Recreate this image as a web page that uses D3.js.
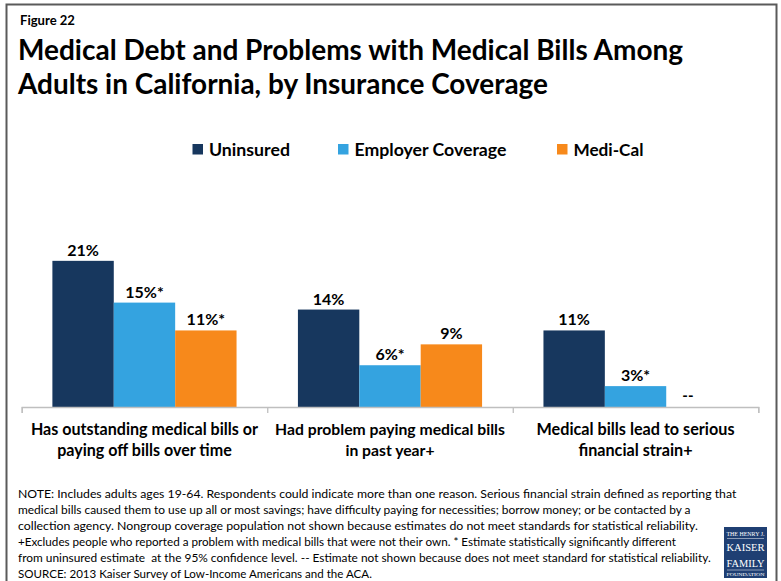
<!DOCTYPE html>
<html>
<head>
<meta charset="utf-8">
<script src="https://cdn.jsdelivr.net/npm/d3@7"></script>
<style>
  html, body { margin: 0; padding: 0; background: #fff; }
  svg { display: block; }
  text { font-family: Lato, "Open Sans", sans-serif; fill: #000; }
</style>
</head>
<body>
<svg id="chart" width="781" height="581"></svg>
<script>
// ---- data ----
const categories = ["cat1", "cat2", "cat3"];
const categoryLabels = [
  ["Has outstanding medical bills or", "paying off bills over time"],
  ["Had problem paying medical bills", "in past year+"],
  ["Medical bills lead to serious", "financial strain+"]
];
const seriesNames = ["Uninsured", "Employer Coverage", "Medi-Cal"];
const seriesColors = ["#17375E", "#34A3E0", "#F7891B"];
const uninsured = [21, 14, 11];
const employer = [15, 6, 3];
const mediCal = [11, 9, null];
const significant = [
  [false, false, false],
  [true, true, true],
  [true, false, false]
];
const noteLines = [
  "NOTE: Includes adults ages 19-64. Respondents could indicate more than one reason. Serious financial strain defined as reporting that",
  "medical bills caused them to use up all or most savings; have difficulty paying for necessities; borrow money; or be contacted by a",
  "collection agency. Nongroup coverage population not shown because estimates do not meet standards for statistical reliability.",
  "+Excludes people who reported a problem with medical bills that were not their own. * Estimate statistically significantly different",
  "from uninsured estimate  at the 95% confidence level. -- Estimate not shown because does not meet standard for statistical reliability.",
  "SOURCE: 2013 Kaiser Survey of Low-Income Americans and the ACA."
];
const noteWidths = [719, 673, 680, 658, 693, 354];

const seriesValues = [uninsured, employer, mediCal];

const svg = d3.select("#chart");

// scale a text element's font size so it spans a given width
function fit(sel, width) {
  const node = sel.node();
  const fs = parseFloat(sel.attr("font-size"));
  const w = node.getComputedTextLength();
  sel.attr("font-size", (fs * width / w).toFixed(2));
  return sel;
}

// frame
svg.append("rect")
  .attr("x", 6.5).attr("y", 4.5).attr("width", 770).attr("height", 600)
  .attr("fill", "none").attr("stroke", "#5a5a5a").attr("stroke-width", 2);

// headings
fit(svg.append("text").attr("x", 20).attr("y", 25)
  .attr("font-size", 14).attr("font-weight", 700).text("Figure 22"), 55);
fit(svg.append("text").attr("x", 18).attr("y", 60)
  .attr("font-size", 26).attr("font-weight", 700)
  .text("Medical Debt and Problems with Medical Bills Among"), 665);
fit(svg.append("text").attr("x", 18).attr("y", 94)
  .attr("font-size", 26).attr("font-weight", 700)
  .text("Adults in California, by Insurance Coverage"), 530);

// legend
const legendX = [192.5, 338, 557];
const legendW = [81, 152, 70];
seriesNames.forEach((name, i) => {
  svg.append("rect").attr("x", legendX[i]).attr("y", 144)
    .attr("width", 10.5).attr("height", 10.5).attr("fill", seriesColors[i]);
  fit(svg.append("text").attr("x", legendX[i] + 16.5).attr("y", 156)
    .attr("font-size", 17).attr("font-weight", 700).text(name), legendW[i]);
});

// scales
const x0 = d3.scaleBand().domain(categories).range([21.7, 758.3]).padding(0);
const x1 = d3.scaleBand().domain(seriesNames).range([0, x0.bandwidth()])
  .paddingInner(0).paddingOuter(0.5);
const y = d3.scaleLinear().domain([0, 25]).range([407, 233]);
const edges = d3.scaleLinear().domain([0, categories.length]).range(x0.range());

// bars
const groups = svg.append("g").selectAll("g").data(categories).join("g")
  .attr("transform", d => `translate(${x0(d)},0)`);

groups.each(function(cat, ci) {
  const g = d3.select(this);
  seriesNames.forEach((s, si) => {
    const v = seriesValues[si][ci];
    const cx = x1(s) + x1.bandwidth() / 2;
    if (v == null) {
      // value withheld: dash marker sits a little left of the empty slot
      g.append("text").attr("x", cx - 9).attr("y", y(0) - 6)
        .attr("text-anchor", "middle").attr("font-size", 15).attr("font-weight", 700)
        .text("--");
      return;
    }
    g.append("rect")
      .attr("x", x1(s)).attr("y", y(v))
      .attr("width", x1.bandwidth()).attr("height", y(0) - y(v))
      .attr("fill", seriesColors[si]);
    g.append("text").attr("x", cx).attr("y", y(v) - 5)
      .attr("text-anchor", "middle").attr("font-size", 16).attr("font-weight", 700)
      .text(v + "%" + (significant[si][ci] ? "*" : ""));
  });
});

// axis with dividers between categories
const axis = svg.append("g").attr("transform", `translate(0,${y(0)})`)
  .call(d3.axisBottom(edges).tickValues(d3.range(categories.length + 1))
    .tickFormat("").tickSizeOuter(0).tickSize(6));
axis.select(".domain").attr("stroke", "#bfbfbf").attr("stroke-width", 1.3);
axis.selectAll(".tick line").attr("stroke", "#bfbfbf").attr("stroke-width", 1.3);

// category labels
const catWidths = [227, 230, 198];
categories.forEach((c, ci) => {
  const cx = x0(c) + x0.bandwidth() / 2;
  const t1 = svg.append("text").attr("x", cx).attr("y", 435)
    .attr("text-anchor", "middle").attr("font-size", 16).attr("font-weight", 700)
    .text(categoryLabels[ci][0]);
  fit(t1, catWidths[ci]);
  svg.append("text").attr("x", cx).attr("y", 456)
    .attr("text-anchor", "middle").attr("font-size", t1.attr("font-size")).attr("font-weight", 700)
    .text(categoryLabels[ci][1]);
});

// notes: each line sized to its own width
noteLines.forEach((line, i) => {
  const t = svg.append("text").attr("x", 18).attr("y", 498 + i * 16)
    .attr("font-size", 12)
    .style("white-space", "pre")
    .text(line);
  fit(t, noteWidths[i]);
});

// foundation mark
const logo = svg.append("g").attr("transform", "translate(724,527)");
logo.append("rect").attr("width", 43).attr("height", 51).attr("fill", "#1F3F73");
logo.append("line").attr("x1", 3).attr("x2", 40).attr("y1", 11.5).attr("y2", 11.5)
  .attr("stroke", "#fff").attr("stroke-width", 0.5);
logo.append("line").attr("x1", 3).attr("x2", 40).attr("y1", 43).attr("y2", 43)
  .attr("stroke", "#fff").attr("stroke-width", 0.5);
[["THE HENRY J.", 9, 5.5], ["KAISER", 24, 10.5], ["FAMILY", 40, 10.5], ["FOUNDATION", 48.5, 4.5]]
  .forEach(([t, yy, fs]) => {
    logo.append("text").attr("x", 21.5).attr("y", yy).attr("text-anchor", "middle")
      .attr("font-size", fs)
      .style("fill", "#fff").style("font-family", "'Liberation Serif', serif")
      .attr("textLength", 38).attr("lengthAdjust", "spacingAndGlyphs").text(t);
  });
</script>
</body>
</html>
